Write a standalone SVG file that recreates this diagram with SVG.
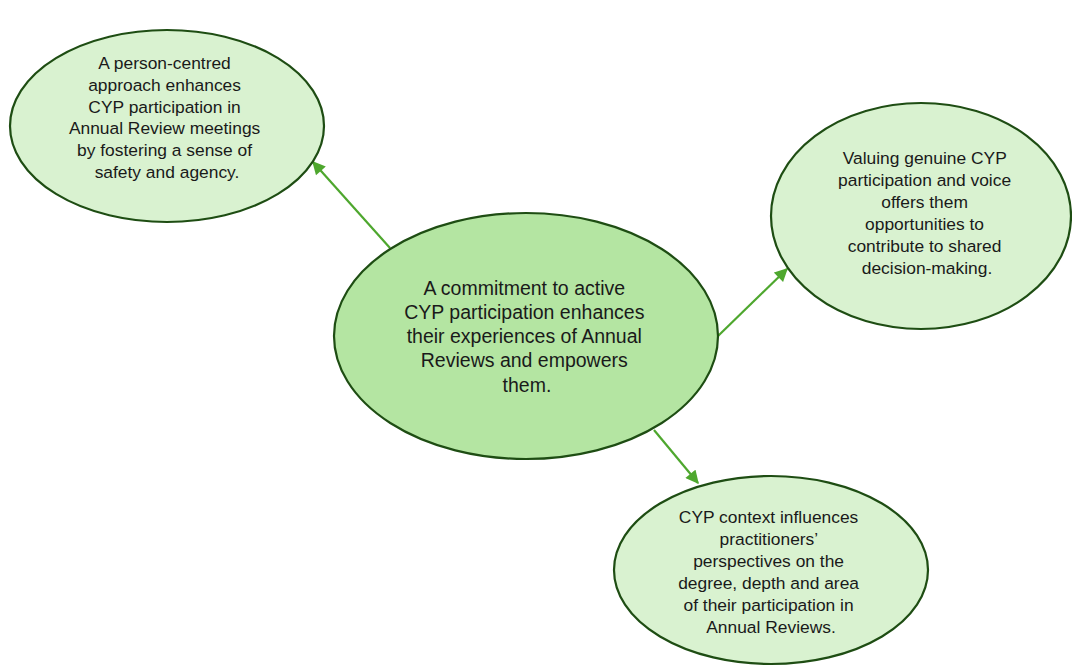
<svg xmlns="http://www.w3.org/2000/svg" width="1072" height="666" viewBox="0 0 1072 666">
  <defs>
    <marker id="arrow" viewBox="0 0 10 10" refX="9" refY="5" markerWidth="6.5" markerHeight="6" orient="auto" markerUnits="strokeWidth">
      <path d="M0,0 L10,5 L0,10 z" fill="#4ea72e"/>
    </marker>
    <style>
      .bubble { fill: #d9f2d0; stroke: #1e4d13; stroke-width: 2.2; }
      .core { fill: #b4e5a2; stroke: #1e4d13; stroke-width: 2.2; }
      .link { stroke: #4ea72e; stroke-width: 2.2; fill: none; marker-end: url(#arrow); }
      text { font-family: "Liberation Sans", Arial, sans-serif; fill: #1a1a1a; text-anchor: middle; }
      .small { font-size: 17.4px; }
      .big { font-size: 19.5px; }
    </style>
  </defs>
  <rect width="1072" height="666" fill="#ffffff"/>

  <g id="connectors">
    <line class="link" x1="390" y1="248" x2="313" y2="162"/>
    <line class="link" x1="718" y1="336" x2="787" y2="269"/>
    <line class="link" x1="654" y1="430" x2="698" y2="483"/>
  </g>

  <g id="node-person-centred">
    <ellipse class="bubble" cx="167" cy="126" rx="157" ry="96"/>
    <text class="small">
      <tspan x="167" y="69">A person-centred</tspan>
      <tspan x="167" y="91">approach enhances</tspan>
      <tspan x="167" y="113">CYP participation in</tspan>
      <tspan x="167" y="134">Annual Review meetings</tspan>
      <tspan x="167" y="156">by fostering a sense of</tspan>
      <tspan x="167" y="178">safety and agency.</tspan>
    </text>
  </g>

  <g id="node-valuing-voice">
    <ellipse class="bubble" cx="921" cy="216" rx="150" ry="113"/>
    <text class="small">
      <tspan x="927" y="164">Valuing genuine CYP</tspan>
      <tspan x="927" y="186">participation and voice</tspan>
      <tspan x="927" y="208">offers them</tspan>
      <tspan x="927" y="230">opportunities to</tspan>
      <tspan x="927" y="252">contribute to shared</tspan>
      <tspan x="927" y="274">decision-making.</tspan>
    </text>
  </g>

  <g id="node-commitment">
    <ellipse class="core" cx="526" cy="336" rx="192" ry="123"/>
    <text class="big">
      <tspan x="527" y="295">A commitment to active</tspan>
      <tspan x="527" y="319">CYP participation enhances</tspan>
      <tspan x="527" y="343">their experiences of Annual</tspan>
      <tspan x="527" y="367">Reviews and empowers</tspan>
      <tspan x="527" y="392">them.</tspan>
    </text>
  </g>

  <g id="node-context">
    <ellipse class="bubble" cx="771" cy="570" rx="157" ry="94"/>
    <text class="small">
      <tspan x="771" y="523">CYP context influences</tspan>
      <tspan x="771" y="545">practitioners’</tspan>
      <tspan x="771" y="567">perspectives on the</tspan>
      <tspan x="771" y="589">degree, depth and area</tspan>
      <tspan x="771" y="611">of their participation in</tspan>
      <tspan x="771" y="633">Annual Reviews.</tspan>
    </text>
  </g>
</svg>
